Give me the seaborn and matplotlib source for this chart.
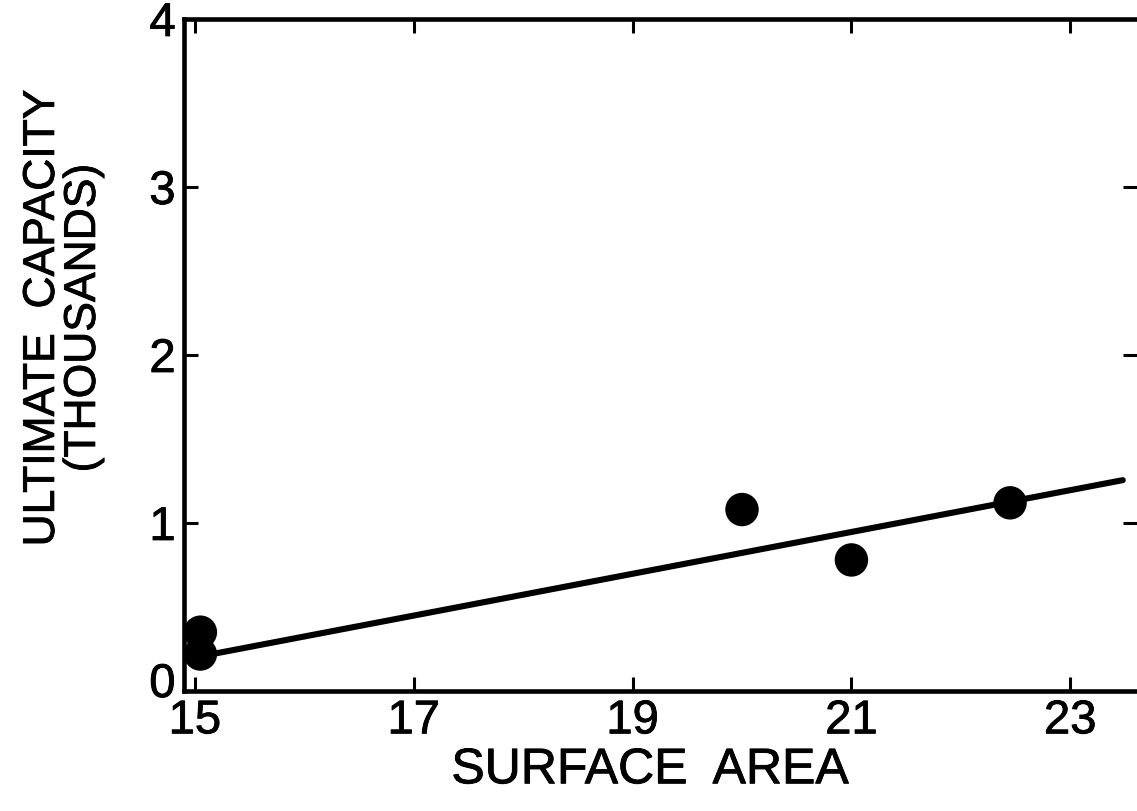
import matplotlib
matplotlib.use("Agg")
import matplotlib.pyplot as plt
import matplotlib.patheffects as pe
import matplotlib.transforms as mtransforms
import seaborn as sns
import pandas as pd

# Data
surface_area = [15.05, 15.05, 20.0, 21.0, 22.45]
capacity = [0.35, 0.22, 1.08, 0.78, 1.12]
fit_x = [15.0, 23.48]
fit_y = [0.20, 1.255]
x_ticks = [15, 17, 19, 21, 23]
y_ticks = [0, 1, 2, 3, 4]

sns.set_theme(style="white")
plt.rcParams['font.family'] = ['Liberation Sans', 'DejaVu Sans']

pts = pd.DataFrame({"x": surface_area, "y": capacity})
fit = pd.DataFrame({"x": fit_x, "y": fit_y})

fig = plt.figure(figsize=(11.37, 8.12), dpi=100)
ax = fig.add_axes([0.1618, 0.1478, 0.8382, 0.8276])

sns.lineplot(data=fit, x="x", y="y", ax=ax, color="black", linewidth=4.4,
             solid_capstyle="round", zorder=2)
sns.scatterplot(data=pts, x="x", y="y", ax=ax, color="black", s=580,
                edgecolor="none", zorder=3, clip_on=False)

ax.set_xlim(14.9, 23.61)
ax.set_ylim(0, 4)
ax.set_xticks(x_ticks)
ax.set_yticks(y_ticks)
ax.set_xticklabels([str(t) for t in x_ticks])
ax.set_yticklabels([str(t) for t in y_ticks])

for side in ["left", "bottom", "top"]:
    ax.spines[side].set_visible(True)
    ax.spines[side].set_color("black")
    ax.spines[side].set_linewidth(3.3)
ax.spines["right"].set_visible(False)

ax.tick_params(axis="both", which="major", direction="in", length=10, width=2.2,
               color="black", labelsize=34, labelcolor="black",
               top=True, right=True, bottom=True, left=True)
ax.tick_params(axis="x", pad=6)
ax.tick_params(axis="y", pad=6)

ax.set_xlabel("SURFACE  AREA", fontsize=36, color="black")
ax.set_ylabel("ULTIMATE  CAPACITY\n(THOUSANDS)", fontsize=32, color="black",
              linespacing=1.0)
ax.xaxis.set_label_coords(0.489, -0.118)
ax.yaxis.set_label_coords(-0.127, 0.555)
ax.yaxis.label.set_verticalalignment("center")
ax.xaxis.label.set_verticalalignment("center")

# lift the "0" label slightly above the corner, as in the reference
zero_lbl = ax.yaxis.get_major_ticks()[0].label1
zero_lbl.set_transform(zero_lbl.get_transform() +
                       mtransforms.ScaledTranslation(0, 11 / 100, fig.dpi_scale_trans))

thick = [pe.withStroke(linewidth=0.6, foreground="black")]
for t in ax.get_xticklabels() + ax.get_yticklabels() + [ax.xaxis.label, ax.yaxis.label]:
    t.set_path_effects(thick)

fig.savefig("out.png", dpi=100, facecolor="white")
